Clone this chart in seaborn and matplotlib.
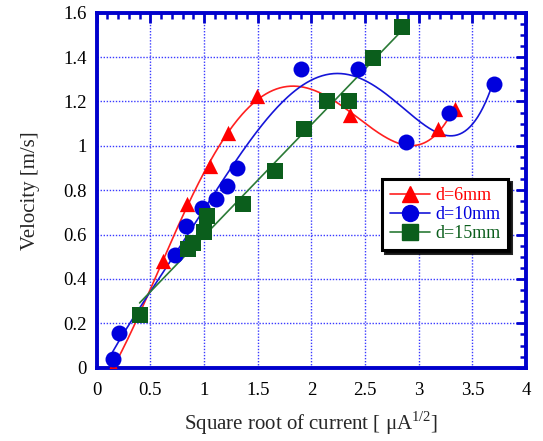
import numpy as np
import pandas as pd
import seaborn as sns
import matplotlib
matplotlib.use("Agg")
import matplotlib.pyplot as plt
from matplotlib.ticker import MultipleLocator, FormatStrFormatter

# values
x_6mm = [0.15, 0.62, 0.84, 1.06, 1.22, 1.49, 2.36, 3.18, 3.34]
v_6mm = [0.00, 0.48, 0.74, 0.91, 1.056, 1.225, 1.14, 1.078, 1.168]

x_10mm = [0.15, 0.21, 0.73, 0.83, 0.985, 1.11, 1.21, 1.305, 1.90, 2.435, 2.88, 3.285, 3.705]
v_10mm = [0.038, 0.155, 0.51, 0.638, 0.722, 0.761, 0.82, 0.90, 1.345, 1.347, 1.018, 1.149, 1.278]

x_15mm = [0.40, 0.85, 0.895, 1.00, 1.03, 1.367, 1.665, 1.935, 2.149, 2.351, 2.575, 2.842]
v_15mm = [0.237, 0.535, 0.56, 0.61, 0.683, 0.737, 0.886, 1.074, 1.204, 1.204, 1.398, 1.536]

labels = ["d=6mm", "d=10mm", "d=15mm"]
fit_degree = [4, 5, 1]
marker_colors = ["#ff0000", "#0000dd", "#0b5e1c"]
line_colors = ["#ff2020", "#1515d8", "#2a7a36"]
markers = ["^", "o", "s"]
marker_sizes = [11, 11.5, 11]

sns.set_style("white")
plt.rcParams["font.family"] = ["Liberation Serif", "DejaVu Serif"]
plt.rcParams["mathtext.fontset"] = "custom"
plt.rcParams["mathtext.rm"] = "Liberation Serif"

fig = plt.figure(figsize=(5.43, 4.41), dpi=100)
ax = fig.add_axes([0.178, 0.1662, 0.7907, 0.805])

series = [(x_6mm, v_6mm), (x_10mm, v_10mm), (x_15mm, v_15mm)]
handles = []
for (xs, vs), lab, deg, mc, lc, mk, ms in zip(series, labels, fit_degree, marker_colors,
                                              line_colors, markers, marker_sizes):
    # smooth fitted curve through the measured points
    coef = np.polyfit(xs, vs, deg)
    xx = np.linspace(min(xs), max(xs), 300)
    fit = pd.DataFrame({"x": xx, "v": np.polyval(coef, xx)})
    sns.lineplot(data=fit, x="x", y="v", color=lc, linewidth=1.2, ax=ax, zorder=3)
    pts = pd.DataFrame({"x": xs, "v": vs})
    sns.scatterplot(data=pts, x="x", y="v", marker=mk, s=ms ** 2, color=mc,
                    edgecolor=mc, linewidth=0, ax=ax, zorder=4)
    handles.append(plt.Line2D([], [], color=lc, linewidth=1.2, marker=mk,
                              markersize=ms, markerfacecolor=mc, markeredgecolor=mc))

ax.set_xlim(0, 4)
ax.set_ylim(0, 1.6)
ax.xaxis.set_major_locator(MultipleLocator(0.5))
ax.xaxis.set_minor_locator(MultipleLocator(0.1))
ax.yaxis.set_major_locator(MultipleLocator(0.2))
ax.yaxis.set_minor_locator(MultipleLocator(0.05))
ax.xaxis.set_major_formatter(FormatStrFormatter("%g"))
ax.yaxis.set_major_formatter(FormatStrFormatter("%g"))

spine_blue = "#0000cc"
for sp in ax.spines.values():
    sp.set_color(spine_blue)
    sp.set_linewidth(2.8)
ax.tick_params(which="both", direction="in", top=True, right=True, color=spine_blue,
               labelsize=13.5, labelcolor="black")
ax.tick_params(which="major", length=7, width=2)
ax.tick_params(which="minor", length=4, width=1.8)
ax.tick_params(axis="x", which="major", pad=10)
ax.tick_params(axis="y", which="major", pad=7)
ax.grid(True, which="major", color="#3a3aff", linestyle=(0, (1, 1.2)), linewidth=1)
ax.set_axisbelow(True)

ax.set_xlabel("Square root of current [ μA$^{1/2}$]", fontsize=15, labelpad=8)
ax.set_ylabel("Velocity [m/s]", fontsize=15, labelpad=17)

leg = ax.legend(handles, labels, loc="upper left", bbox_to_anchor=(0.664, 0.532),
                fontsize=13, frameon=True, fancybox=False, handlelength=2.2,
                handletextpad=0.3, borderpad=0.45, labelspacing=0.12,
                shadow={"color": "black", "alpha": 0.85}, borderaxespad=0)
leg.get_frame().set_edgecolor("black")
leg.get_frame().set_linewidth(2.2)
for txt, c in zip(leg.get_texts(), marker_colors):
    txt.set_color(c)

fig.savefig("out.png", dpi=100)
